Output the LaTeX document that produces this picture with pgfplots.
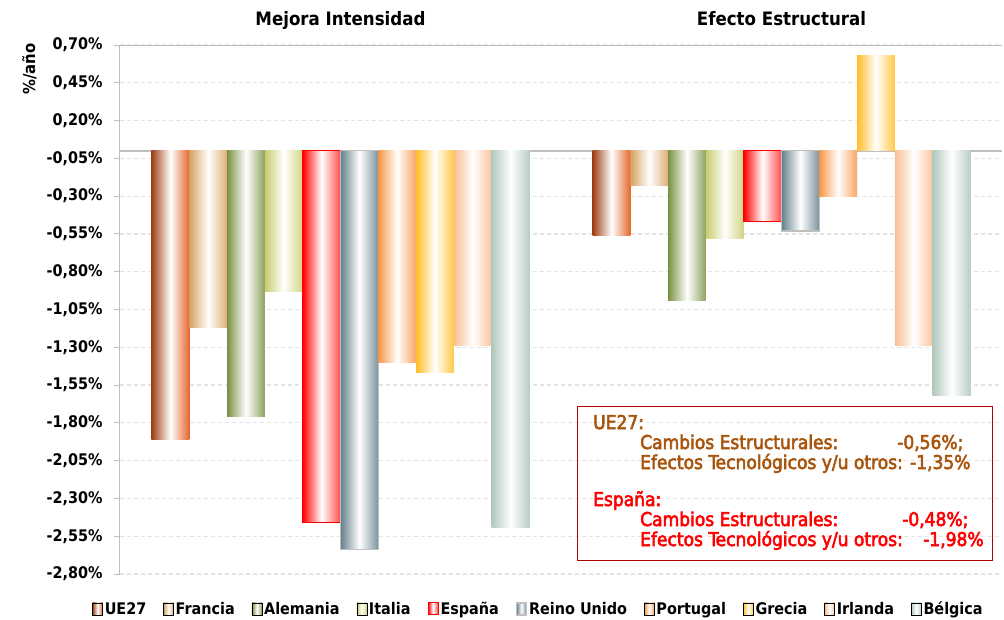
\documentclass[border=0pt]{standalone}
\usepackage{pgfplots}
\pgfplotsset{compat=1.18}
\usepackage{fontspec}
\setmainfont{DejaVu Sans Condensed}
\newfontfamily\boxfont{DejaVu Sans Condensed}[FakeBold=3]
\definecolor{cUEa}{RGB}{158,62,18}
\definecolor{cUEb}{RGB}{228,104,44}
\definecolor{cFR}{RGB}{214,160,95}
\definecolor{cDE}{RGB}{122,145,66}
\definecolor{cIT}{RGB}{200,204,110}
\definecolor{cES}{RGB}{255,0,0}
\definecolor{cUK}{RGB}{100,128,140}
\definecolor{cPT}{RGB}{247,150,70}
\definecolor{cGR}{RGB}{255,190,40}
\definecolor{cIE}{RGB}{250,190,145}
\definecolor{cBE}{RGB}{178,200,188}
\definecolor{boxbrown}{RGB}{168,86,14}
\definecolor{boxred}{RGB}{176,0,0}
\definecolor{gridc}{RGB}{228,228,228}
\definecolor{axc}{RGB}{191,191,191}
\pgfplotsset{
  limg/.style={legend image code/.code={\draw[##1] (0pt,-6pt) rectangle (10pt,6pt);}},
  sUE/.style={draw=none, left color=cUEa, right color=cUEb, middle color=white, limg},
  sFR/.style={draw=none, left color=cFR, right color=cFR!85, middle color=white, limg},
  sDE/.style={draw=none, left color=cDE, right color=cDE!85, middle color=white, limg},
  sIT/.style={draw=none, left color=cIT, right color=cIT!85, middle color=white, limg},
  sES/.style={draw=cES, line width=1pt, left color=cES, right color=cES!70, middle color=white, limg},
  sUK/.style={draw=axc, line width=1.2pt, left color=cUK, right color=cUK!85, middle color=white, limg},
  sPT/.style={draw=none, left color=cPT, right color=cPT!85, middle color=white, limg},
  sGR/.style={draw=none, left color=cGR, right color=cGR!85, middle color=white, limg},
  sIE/.style={draw=none, left color=cIE, right color=cIE!90, middle color=white, limg},
  sBE/.style={draw=none, left color=cBE, right color=cBE!90, middle color=white, limg},
}
\begin{document}
\begin{tikzpicture}
\begin{axis}[
  scale only axis, width=882pt, height=529pt,
  xmin=-0.5, xmax=1.5, ymin=-2.8, ymax=0.7,
  ybar, bar width=37.8pt,
  axis x line=top, axis y line=left,
  axis line style={-, draw=axc, line width=1pt},
  xtick={0,1}, xticklabels={Mejora Intensidad, Efecto Estructural},
  xtick style={draw=none},
  xticklabel style={font=\fontsize{18.5}{21}\selectfont\bfseries, text depth=0pt, yshift=10pt},
  ytick={-2.8,-2.55,-2.3,-2.05,-1.8,-1.55,-1.3,-1.05,-0.8,-0.55,-0.3,-0.05,0.2,0.45,0.7},
  yticklabel={\pgfmathprintnumber{\tick}\%},
  yticklabel style={font=\fontsize{16}{18}\selectfont\bfseries, xshift=-8pt,
    /pgf/number format/.cd, fixed, fixed zerofill, precision=2, use comma, assume math mode=true},
  ytick style={draw=axc, line width=1pt},
  tick align=outside, major tick length=6pt,
  ymajorgrids, major grid style={dash pattern=on 4pt off 3pt, draw=gridc, line width=1.2pt},
  extra y ticks={0}, extra y tick labels={},
  extra y tick style={major tick length=0pt, major grid style={solid, draw=axc, line width=1.5pt}},
  ylabel={\%/año},
  ylabel style={at={(axis description cs:-0.1026,0.955)}, anchor=center, font=\fontsize{16.5}{19}\selectfont\bfseries},
  legend columns=10,
  legend style={at={(axis description cs:0.4745,-0.066)}, anchor=center, draw=none, fill=none,
    font=\fontsize{16}{19}\selectfont\bfseries, inner sep=0pt,
    /tikz/every odd column/.append style={column sep=0pt},
    /tikz/every even column/.append style={column sep=15pt}},
]
\addplot[sUE, bar shift=-170.1pt] coordinates {(0,-1.91)};
\addplot[sFR, bar shift=-132.3pt] coordinates {(0,-1.17)};
\addplot[sDE, bar shift=-94.5pt] coordinates {(0,-1.76)};
\addplot[sIT, bar shift=-56.7pt] coordinates {(0,-0.93)};
\addplot[sES, bar shift=-18.9pt] coordinates {(0,-2.46)};
\addplot[sUK, bar shift=18.9pt] coordinates {(0,-2.64)};
\addplot[sPT, bar shift=56.7pt] coordinates {(0,-1.40)};
\addplot[sGR, bar shift=94.5pt] coordinates {(0,-1.47)};
\addplot[sIE, bar shift=132.3pt] coordinates {(0,-1.29)};
\addplot[sBE, bar shift=170.1pt] coordinates {(0,-2.49)};
\legend{UE27,Francia,Alemania,Italia,España,Reino Unido,Portugal,Grecia,Irlanda,Bélgica}
\addplot[sUE, bar shift=-170.1pt, forget plot] coordinates {(1,-0.56)};
\addplot[sFR, bar shift=-132.3pt, forget plot] coordinates {(1,-0.23)};
\addplot[sDE, bar shift=-94.5pt, forget plot] coordinates {(1,-0.99)};
\addplot[sIT, bar shift=-56.7pt, forget plot] coordinates {(1,-0.58)};
\addplot[sES, bar shift=-18.9pt, forget plot] coordinates {(1,-0.47)};
\addplot[sUK, bar shift=18.9pt, forget plot] coordinates {(1,-0.53)};
\addplot[sPT, bar shift=56.7pt, forget plot] coordinates {(1,-0.30)};
\addplot[sGR, bar shift=94.5pt, forget plot] coordinates {(1,0.63)};
\addplot[sIE, bar shift=132.3pt, forget plot] coordinates {(1,-1.29)};
\addplot[sBE, bar shift=170.1pt, forget plot] coordinates {(1,-1.62)};
\end{axis}
\draw[boxred, line width=1pt] (457pt,14pt) rectangle (872pt,168pt);
\begin{scope}[every node/.style={anchor=base west, inner sep=0pt, font=\boxfont\fontsize{19}{21}\selectfont}]
\node[text=boxbrown] at (473pt,145pt) {UE27:};
\node[text=boxbrown] at (520pt,125pt) {Cambios Estructurales:};
\node[text=boxbrown] at (777pt,125pt) {-0,56\%;};
\node[text=boxbrown] at (520pt,105pt) {Efectos Tecnológicos y/u otros: -1,35\%};
\node[text=red] at (473pt,68pt) {España:};
\node[text=red] at (520pt,48pt) {Cambios Estructurales:};
\node[text=red] at (782pt,48pt) {-0,48\%;};
\node[text=red] at (520pt,28pt) {Efectos Tecnológicos y/u otros:};
\node[text=red] at (803pt,28pt) {-1,98\%};
\end{scope}
\pgfresetboundingbox
\path[use as bounding box] (-120pt,-45pt) rectangle (884pt,574pt);
\end{tikzpicture}
\end{document}
